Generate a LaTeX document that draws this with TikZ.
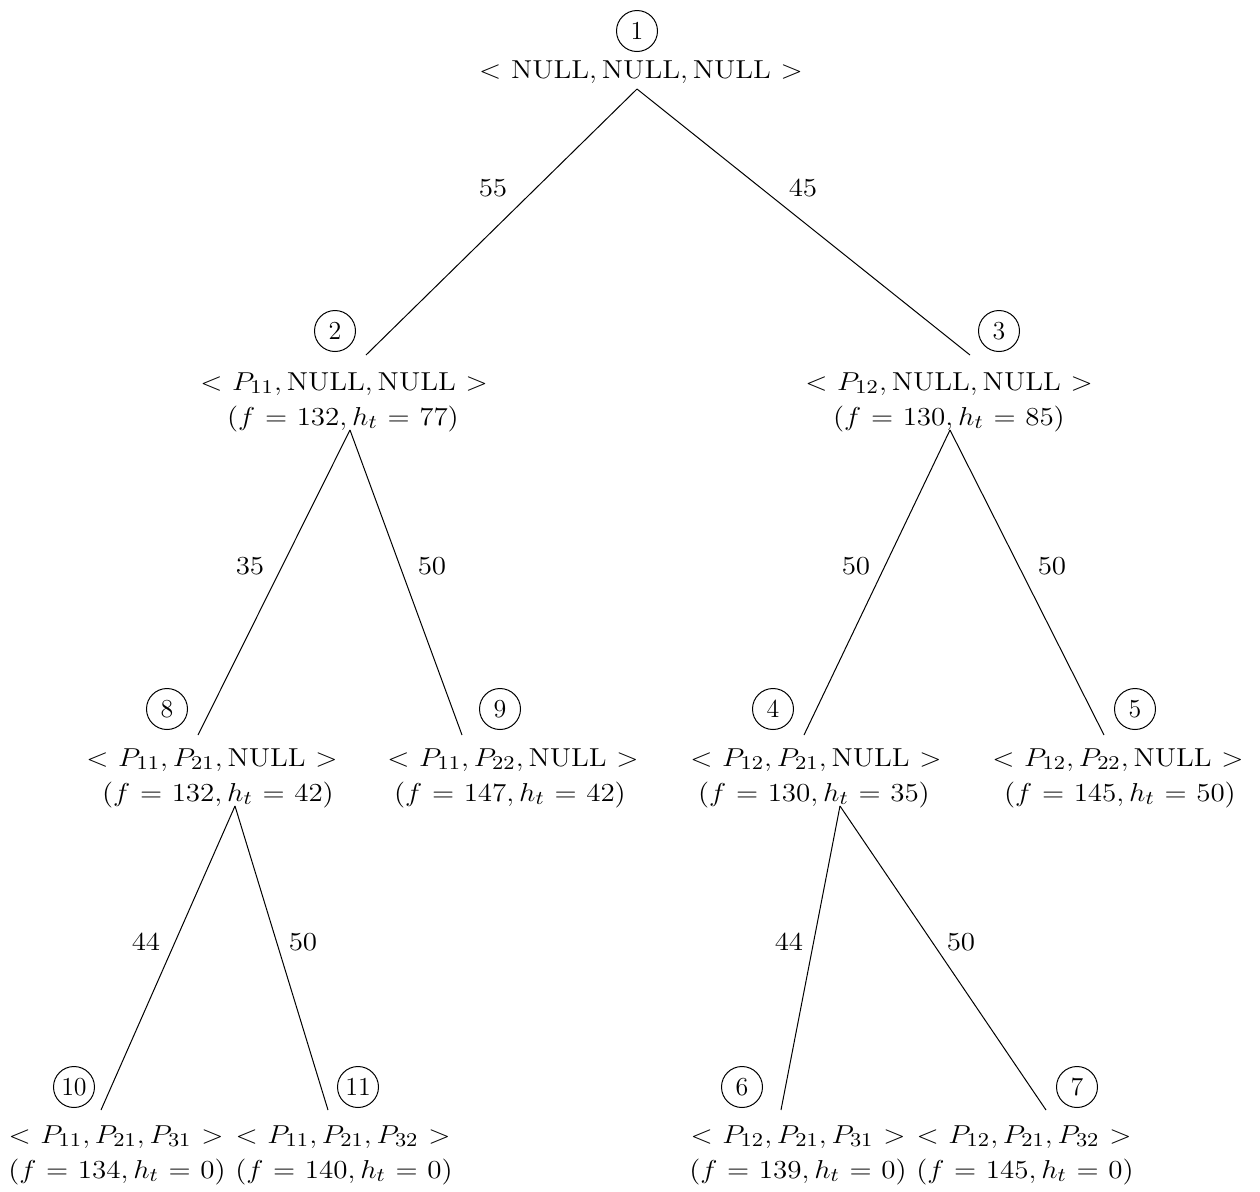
\documentclass[tikz,border=0pt]{standalone}
\usepackage{graphicx}
\DeclareMathSizes{12}{12}{9}{7}
\newcommand{\mtxt}[1]{\scalebox{1.21}[1.08]{$\thickmuskip=6mu plus 2mu\relax #1$}}
\tikzset{
  num/.style={draw, circle, line width=0.5pt, minimum size=20.5pt, inner sep=0pt},
  lab/.style={anchor=base, inner sep=0pt},
  wt/.style={inner sep=0pt},
  edge/.style={line width=0.5pt}
}
\begin{document}
\begin{tikzpicture}[x=0.5pt,y=-0.5pt]
\fontsize{12}{14}\selectfont
\useasboundingbox (0,0) rectangle (1260,1191);
% node 1
\node[num] (n1) at (637,31) {\scalebox{1.08}{1}};
\node[lab] (l1) at (641,78) {\mtxt{<\mathrm{NULL},\mathrm{NULL},\mathrm{NULL}>}};
\coordinate (b1) at (637,89);
% node 2
\node[num] (n2) at (335,331) {\scalebox{1.08}{2}};
\node[lab] (l2a) at (344,390) {\mtxt{<P_{11},\mathrm{NULL},\mathrm{NULL}>}};
\node[lab] (l2b) at (343,425) {\mtxt{(f=132,h_t=77)}};
\coordinate (t2) at (366,355);
\coordinate (b2) at (350,430);
% node 3
\node[num] (n3) at (999,331) {\scalebox{1.08}{3}};
\node[lab] (l3a) at (949,390) {\mtxt{<P_{12},\mathrm{NULL},\mathrm{NULL}>}};
\node[lab] (l3b) at (949,425) {\mtxt{(f=130,h_t=85)}};
\coordinate (t3) at (970,355);
\coordinate (b3) at (950,430);
% node 8
\node[num] (n8) at (167,709) {\scalebox{1.08}{8}};
\node[lab] (l8a) at (212,766) {\mtxt{<P_{11},P_{21},\mathrm{NULL}>}};
\node[lab] (l8b) at (218,801) {\mtxt{(f=132,h_t=42)}};
\coordinate (t8) at (198,735);
\coordinate (b8) at (235,806);
% node 9
\node[num] (n9) at (500,709) {\scalebox{1.08}{9}};
\node[lab] (l9a) at (513,766) {\mtxt{<P_{11},P_{22},\mathrm{NULL}>}};
\node[lab] (l9b) at (510,801) {\mtxt{(f=147,h_t=42)}};
\coordinate (t9) at (462,735);
% node 4
\node[num] (n4) at (773,709) {\scalebox{1.08}{4}};
\node[lab] (l4a) at (816,766) {\mtxt{<P_{12},P_{21},\mathrm{NULL}>}};
\node[lab] (l4b) at (814,801) {\mtxt{(f=130,h_t=35)}};
\coordinate (t4) at (804,735);
\coordinate (b4) at (840,806);
% node 5
\node[num] (n5) at (1135,709) {\scalebox{1.08}{5}};
\node[lab] (l5a) at (1118,766) {\mtxt{<P_{12},P_{22},\mathrm{NULL}>}};
\node[lab] (l5b) at (1120,801) {\mtxt{(f=145,h_t=50)}};
\coordinate (t5) at (1104,735);
% node 10
\node[num] (n10) at (74,1087) {\scalebox{1.08}{10}};
\node[lab] (l10a) at (116,1143) {\mtxt{<P_{11},P_{21},P_{31}>}};
\node[lab] (l10b) at (117,1178) {\mtxt{(f=134,h_t=0)}};
\coordinate (t10) at (101,1110);
% node 11
\node[num] (n11) at (358,1087) {\scalebox{1.08}{11}};
\node[lab] (l11a) at (343,1143) {\mtxt{<P_{11},P_{21},P_{32}>}};
\node[lab] (l11b) at (344,1178) {\mtxt{(f=140,h_t=0)}};
\coordinate (t11) at (328,1110);
% node 6
\node[num] (n6) at (742,1087) {\scalebox{1.08}{6}};
\node[lab] (l6a) at (798,1143) {\mtxt{<P_{12},P_{21},P_{31}>}};
\node[lab] (l6b) at (798,1178) {\mtxt{(f=139,h_t=0)}};
\coordinate (t6) at (781,1110);
% node 7
\node[num] (n7) at (1077,1087) {\scalebox{1.08}{7}};
\node[lab] (l7a) at (1024,1143) {\mtxt{<P_{12},P_{21},P_{32}>}};
\node[lab] (l7b) at (1025,1178) {\mtxt{(f=145,h_t=0)}};
\coordinate (t7) at (1046,1110);
% edges
\draw[edge] (b1) -- (t2);
\draw[edge] (b1) -- (t3);
\draw[edge] (b2) -- (t8);
\draw[edge] (b2) -- (t9);
\draw[edge] (b3) -- (t4);
\draw[edge] (b3) -- (t5);
\draw[edge] (b8) -- (t10);
\draw[edge] (b8) -- (t11);
\draw[edge] (b4) -- (t6);
\draw[edge] (b4) -- (t7);
% weights
\node[wt] (w12) at (493,188) {\mtxt{55}};
\node[wt] (w13) at (803,188) {\mtxt{45}};
\node[wt] (w28) at (250,566) {\mtxt{35}};
\node[wt] (w29) at (432,566) {\mtxt{50}};
\node[wt] (w34) at (856,566) {\mtxt{50}};
\node[wt] (w35) at (1052,566) {\mtxt{50}};
\node[wt] (w810) at (146,942) {\mtxt{44}};
\node[wt] (w811) at (303,942) {\mtxt{50}};
\node[wt] (w46) at (789,942) {\mtxt{44}};
\node[wt] (w47) at (961,942) {\mtxt{50}};
\end{tikzpicture}
\end{document}
